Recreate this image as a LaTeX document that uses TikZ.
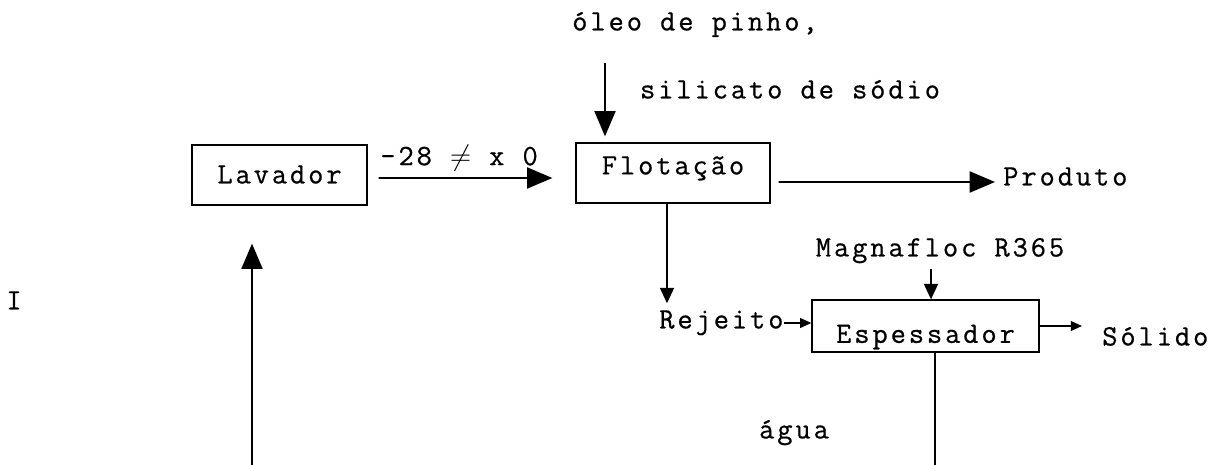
\documentclass[tikz,border=0pt]{standalone}
\usepackage{fontspec}
\setmainfont{Latin Modern Mono}[LetterSpace=10, FakeBold=0.6]
\usetikzlibrary{arrows.meta, positioning}

\begin{document}
\begin{tikzpicture}[
    x=0.025cm, y=-0.025cm,
    font=\fontsize{21}{23}\selectfont,
    unitbox/.style={draw, line width=0.9pt, inner sep=0pt, minimum height=1.5cm, text height=12pt, text depth=0pt},
    txt/.style={inner sep=0pt, text height=12pt, text depth=0pt},
    bigarrow/.style={-{Triangle[length=18pt, width=15pt]}, line width=1.2pt},
    midarrow/.style={-{Triangle[length=11pt, width=10pt]}, line width=1.2pt},
    smallarrow/.style={-{Triangle[length=8pt, width=7pt]}, line width=1.2pt},
    flowline/.style={line width=1.2pt}
]
\useasboundingbox (0,0) rectangle (1215,465);

% Units
\node (lav) [unitbox, minimum width=4.375cm] at (279.5,175) {Lavador};
\node (flot) [unitbox, minimum width=4.85cm, text depth=10pt] at (673,173) {Flotação};
\node (esp) [unitbox, minimum width=5.675cm, minimum height=1.3cm, text height=24pt] at (925.5,326) {Espessador};

% Streams
\node (oleo) [txt] at (695,22) {óleo de pinho,};
\node (silic) [txt] at (790,90) {silicato de sódio};
\node (prod) [txt, anchor=west] at (1003,177) {Produto};
\node (magna) [txt] at (940,248) {Magnafloc R365};
\node (rej) [txt, anchor=west] at (659,320) {Rejeito};
\node (sol) [txt, anchor=west] at (1102,337) {Sólido};
\node (agua) [txt] at (794,430) {água};
\node (mark) [txt] at (14,301) {I};

\coordinate (feed) at (605,63);
\coordinate (wbot) at (935,465);
\coordinate (rbot) at (252,465);

% Arrows
\draw [bigarrow, shorten <=0.275cm, shorten >=0.575cm] ([yshift=-0.075cm]lav.east) -- node[txt, pos=0.44, above=0.3cm] {-28 $\neq$ x 0} ([yshift=-0.125cm]flot.west);
\draw [bigarrow, shorten >=0.15cm] (feed) -- (feed |- flot.north);
\draw [bigarrow, shorten <=0.2cm, shorten >=0.2cm] ([yshift=-0.225cm]flot.east) -- ([yshift=-0.125cm]prod.west);

\draw [midarrow, shorten >=0.2cm] ([xshift=-0.15cm]flot.south) -- ([xshift=-0.15cm]flot.south |- rej.north);
\draw [smallarrow] ([yshift=-0.075cm]rej.east) -- ([yshift=-0.075cm]rej.east -| esp.west);
\draw [midarrow, shorten <=0.3cm] ([xshift=-0.225cm]magna.south) -- ([xshift=-0.225cm]magna.south |- esp.north);
\draw [smallarrow, shorten >=0.5cm] (esp.east) -- (esp.east -| sol.west);

\draw [flowline] (wbot |- esp.south) -- (wbot);
\draw [bigarrow, shorten >=0.95cm] (rbot) -- (rbot |- lav.south);

\end{tikzpicture}
\end{document}
